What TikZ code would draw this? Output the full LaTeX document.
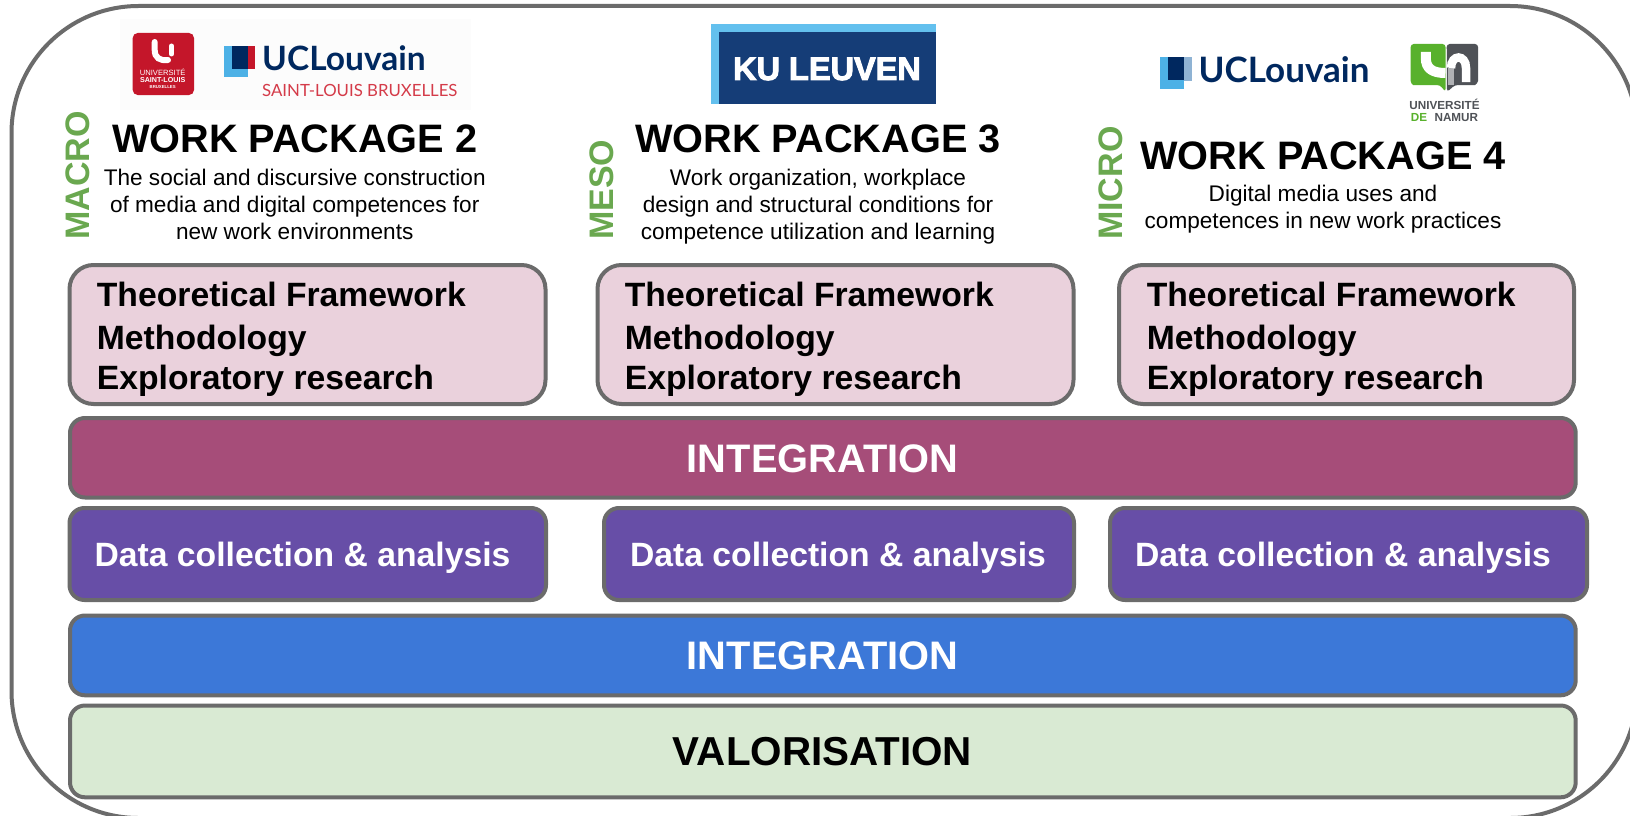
\documentclass[tikz,border=0pt]{standalone}
\usepackage{fontspec}
\setmainfont{Liberation Sans}
\newfontfamily\logofont{Lato}
\newfontfamily\kufont[FakeBold=3]{Liberation Sans Bold}
\definecolor{edge}{HTML}{6B6B6B}
\definecolor{pinkfill}{HTML}{EAD1DC}
\definecolor{integA}{HTML}{A64D79}
\definecolor{purplefill}{HTML}{674EA7}
\definecolor{bluefill}{HTML}{3C78D8}
\definecolor{greenfill}{HTML}{D9EAD3}
\definecolor{levelgreen}{HTML}{6AA84F}
\definecolor{uclnavy}{HTML}{00285F}
\definecolor{ucllight}{HTML}{4DB1E6}
\definecolor{uclred}{HTML}{C4162A}
\definecolor{uclpale}{HTML}{8FB3D4}
\definecolor{slbred}{HTML}{D43B49}
\definecolor{kulight}{HTML}{63C0EE}
\definecolor{kunavy}{HTML}{153D77}
\definecolor{namgreen}{HTML}{58B12C}
\definecolor{namgray}{HTML}{4F5257}
\tikzset{
 box/.style={draw=edge,line width=4pt,inner sep=0pt,outer sep=0pt},
 pinkbox/.style={box,fill=pinkfill,rounded corners=24pt,minimum width=#1,minimum height=139pt},
 databox/.style={box,fill=purplefill,rounded corners=15pt,minimum width=#1,minimum height=92pt},
 wide/.style={box,rounded corners=15pt,minimum width=1505.7pt},
 wp/.style={font=\fontsize{39.7}{39.7}\selectfont\bfseries,anchor=base,inner sep=0pt},
 desc/.style={font=\fontsize{22.6}{27}\selectfont,align=center,anchor=north,inner sep=0pt},
 level/.style={font=\fontsize{34}{34}\selectfont\bfseries,text=levelgreen,rotate=90,anchor=base west,inner sep=0pt},
 pinktext/.style={font=\fontsize{33.7}{34}\selectfont\bfseries,anchor=base west,inner sep=0pt},
 datatext/.style={font=\fontsize{33.7}{34}\selectfont\bfseries,text=white,anchor=base,inner sep=0pt},
 bandtext/.style={font=\fontsize{#1}{40}\selectfont\bfseries,anchor=base,inner sep=0pt},
 ucltext/.style={font=\logofont\fontsize{#1}{#1}\selectfont\bfseries,text=uclnavy,anchor=base west,inner sep=0pt},
 namtext/.style={font=\fontsize{11.7}{12}\selectfont\bfseries,inner sep=0pt},
}
\begin{document}
\begin{tikzpicture}[x=1pt,y=-1pt]
\useasboundingbox (0,0) rectangle (1630,816);
\clip (0,0) rectangle (1630,816);
\fill[white] (0,0) rectangle (1630,816);
% outer frame
\draw[edge,line width=4pt,rounded corners=127pt] (11.5,6) rectangle (1637,818);

% logos left
\fill[black!1] (120,19) rectangle (471,110);
\fill[uclred,rounded corners=5pt] (132.7,33) rectangle (194,95);
\draw[white,line width=6pt,line cap=round] (154.7,42) -- (154.7,50) .. controls (154.7,58) and (160,61) .. (168,60);
\draw[white,line width=5pt,line cap=round] (171.5,46) -- (171.5,54);
\node[font=\fontsize{7.6}{8}\selectfont,text=white,inner sep=0pt] (lgA) at (162.7,72.7) {UNIVERSITÉ};
\node[font=\fontsize{7.15}{8}\selectfont\bfseries,text=white,inner sep=0pt] (lgB) at (162.7,80) {SAINT-LOUIS};
\node[font=\fontsize{4.3}{5}\selectfont\bfseries,text=white,inner sep=0pt] (lgC) at (162.7,87.3) {BRUXELLES};
\fill[ucllight] (224.3,45.7) rectangle (247.7,76.7);
\fill[uclnavy] (232.3,45.7) rectangle (247.7,68.7);
\fill[uclred] (247.7,45.7) rectangle (255.3,68.7);
\node[ucltext=33.5] (uclA) at (262,70.5) {UCLouvain};
\node[font=\logofont\fontsize{16.8}{17}\selectfont,text=slbred,anchor=base west,inner sep=0pt] (slb) at (262,96) {SAINT-LOUIS BRUXELLES};

% logo centre
\fill[kulight] (710.7,24) rectangle (935.7,104.3);
\fill[kunavy] (719,32.3) rectangle (935.7,104.3);
\node[font=\kufont\fontsize{32.5}{33}\selectfont,text=white,anchor=base,inner sep=0pt] (ku) at (827,80) {KU LEUVEN};

% logos right
\fill[ucllight] (1159.5,56.7) rectangle (1184,89.3);
\fill[uclnavy] (1168.4,56.7) rectangle (1184,80);
\fill[uclpale] (1184,56.7) rectangle (1191.7,80.5);
\node[ucltext=35] (uclB) at (1198.5,82.5) {UCLouvain};
% Namur shield
\fill[namgreen,rounded corners=3pt] (1410.7,44) -- (1445.5,44) -- (1445.5,84) -- (1445.5,92) -- (1440,85) -- (1416,85) .. controls (1412,85) and (1410.7,82) .. (1410.7,78) -- cycle;
\fill[namgray,rounded corners=3pt] (1446.7,44) -- (1478,44) -- (1478,78) .. controls (1478,82) and (1476,85) .. (1472,85) -- (1455,85) -- (1447,92) -- cycle;
\draw[white,line width=10pt] (1425.8,52) -- (1425.8,58) .. controls (1425.8,69) and (1433,73) .. (1445.5,73);
\draw[namgray!45,line width=6.5pt] (1451,68) -- (1451,85);
\draw[white,line width=8.5pt] (1451,68) .. controls (1451,54) and (1466,54) .. (1466,68) -- (1466,82);
\node[namtext,text=namgray,anchor=base] (namA) at (1444.5,110) {UNIVERSITÉ};
\node[namtext,text=namgreen,anchor=base west] (namB) at (1410.7,121) {DE};
\node[namtext,text=namgray,anchor=base east] (namC) at (1478.3,121) {NAMUR};

% levels
\node[level] (macro) at (89.5,240) {MACRO};
\node[level] (meso) at (613,240) {MESO};
\node[level] (micro) at (1122,240) {MICRO};

% titles
\node[wp] (wpA) at (294.7,152) {WORK PACKAGE 2};
\node[wp] (wpB) at (818,152) {WORK PACKAGE 3};
\node[wp] (wpC) at (1323,169.5) {WORK PACKAGE 4};
\node[desc] (dA) at (294.7,169.2) {The social and discursive construction\\of media and digital competences for\\new work environments};
\node[desc] (dB) at (818,169.2) {Work organization, workplace\\design and structural conditions for\\competence utilization and learning};
\node[desc] (dC) at (1323,185.2) {Digital media uses and\\competences in new work practices};

% pink boxes
\node[pinkbox=476pt] (pA) at (307.5,334.5) {};
\node[pinkbox=476pt] (pB) at (835.5,334.5) {};
\node[pinkbox=455pt] (pC) at (1346.5,334.5) {};
\foreach \nm/\xx in {a/96.7,b/624.7,c/1146.6}{
 \node[pinktext] (tf\nm) at (\xx,306.6) {Theoretical Framework};
 \node[pinktext] (me\nm) at (\xx,349) {Methodology};
 \node[pinktext] (ex\nm) at (\xx,389.8) {Exploratory research};
}

% integration 1
\node[wide,fill=integA,minimum height=79.5pt] (intA) at (822.85,457.75) {};
\node[bandtext=39.8,text=white] (intAt) at (822.5,472) {INTEGRATION};

% data boxes
\node[databox=476.5pt] (daA) at (307.75,554) {};
\node[databox=470pt] (daB) at (839,554) {};
\node[databox=477pt] (daC) at (1348.5,554) {};
\node[datatext] (daAt) at (302.5,566.5) {Data collection \& analysis};
\node[datatext] (daBt) at (838,566.5) {Data collection \& analysis};
\node[datatext] (daCt) at (1343,566.5) {Data collection \& analysis};

% integration 2
\node[wide,fill=bluefill,minimum height=79.8pt] (intB) at (822.85,655.4) {};
\node[bandtext=39.8,text=white] (intBt) at (822.5,669.5) {INTEGRATION};

% valorisation
\node[wide,fill=greenfill,minimum height=91.8pt] (val) at (822.85,751.4) {};
\node[bandtext=40.4] (valt) at (822.5,765) {VALORISATION};
\end{tikzpicture}
\end{document}
